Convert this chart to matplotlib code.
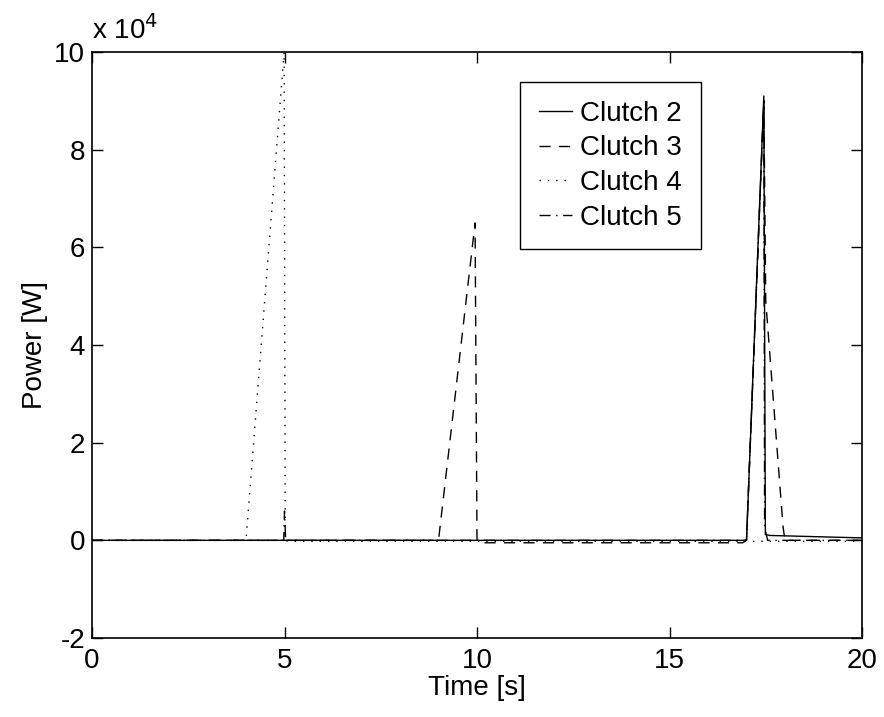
import matplotlib
matplotlib.use("Agg")
import matplotlib.pyplot as plt

plt.rcParams['font.family'] = ['Liberation Sans', 'DejaVu Sans']

# Clutch power traces (time in s, power in W)
t_c2 = [0.0, 17.0, 17.45, 17.49, 17.6, 20.0]
p_c2 = [0.0, 0.0, 91000.0, 1200.0, 1000.0, 500.0]

t_c3 = [0.0, 9.0, 9.95, 10.0, 10.1, 16.9, 17.0, 17.45, 17.5, 17.95, 18.0, 20.0]
p_c3 = [0.0, 0.0, 65000.0, 0.0, -500.0, -500.0, 0.0, 90000.0, 49000.0, 2700.0, 0.0, 0.0]

t_c4 = [0.0, 4.0, 4.99, 5.02, 5.1, 20.0]
p_c4 = [0.0, 0.0, 100000.0, 0.0, -200.0, -200.0]

t_c5 = [0.0, 4.98, 5.0, 5.03, 17.0, 17.45, 17.47, 17.55, 20.0]
p_c5 = [0.0, 0.0, 6000.0, 0.0, 0.0, 90000.0, 2700.0, 0.0, 0.0]

x_ticks = [0, 5, 10, 15, 20]
y_ticks = [-2, 0, 2, 4, 6, 8, 10]

fig = plt.figure(figsize=(8.84, 7.17), dpi=100)
ax = fig.add_axes([92 / 884, 1 - 638 / 717, 770 / 884, 586 / 717])

lw = 1.0
ax.plot(t_c2, p_c2, color='black', lw=lw, ls='-', label='Clutch 2')
ax.plot(t_c3, p_c3, color='black', lw=lw, ls=(0, (8, 6)), label='Clutch 3')
ax.plot(t_c4, p_c4, color='black', lw=lw, ls=(0, (1, 5)), label='Clutch 4')
ax.plot(t_c5, p_c5, color='black', lw=lw, ls=(0, (8, 4, 1, 4)), label='Clutch 5')

ax.set_xlim(0, 20)
ax.set_ylim(-20000, 100000)
ax.set_xticks(x_ticks)
ax.set_xticklabels([str(v) for v in x_ticks])
ax.set_yticks([v * 1e4 for v in y_ticks])
ax.set_yticklabels([str(v) for v in y_ticks])

fs = 20
ax.tick_params(direction='in', length=8, width=1, labelsize=fs,
               top=True, right=True)
ax.tick_params(axis='x', pad=7)
ax.tick_params(axis='y', pad=5)
for s in ax.spines.values():
    s.set_linewidth(1.2)

ax.set_xlabel('Time [s]', fontsize=fs, labelpad=1)
ax.set_ylabel('Power [W]', fontsize=fs, labelpad=4)
ax.text(0.0, 1.012, r'x 10$^4$', transform=ax.transAxes, fontsize=fs,
        ha='left', va='bottom')

leg = ax.legend(loc='upper right', bbox_to_anchor=(0.791, 0.949),
                borderaxespad=0, fontsize=fs, fancybox=False,
                edgecolor='black', framealpha=1, handlelength=1.2,
                handletextpad=0.3, labelspacing=0.31, borderpad=0.68)
leg.get_frame().set_linewidth(1.0)

fig.savefig('out.png', dpi=100, facecolor='white')
